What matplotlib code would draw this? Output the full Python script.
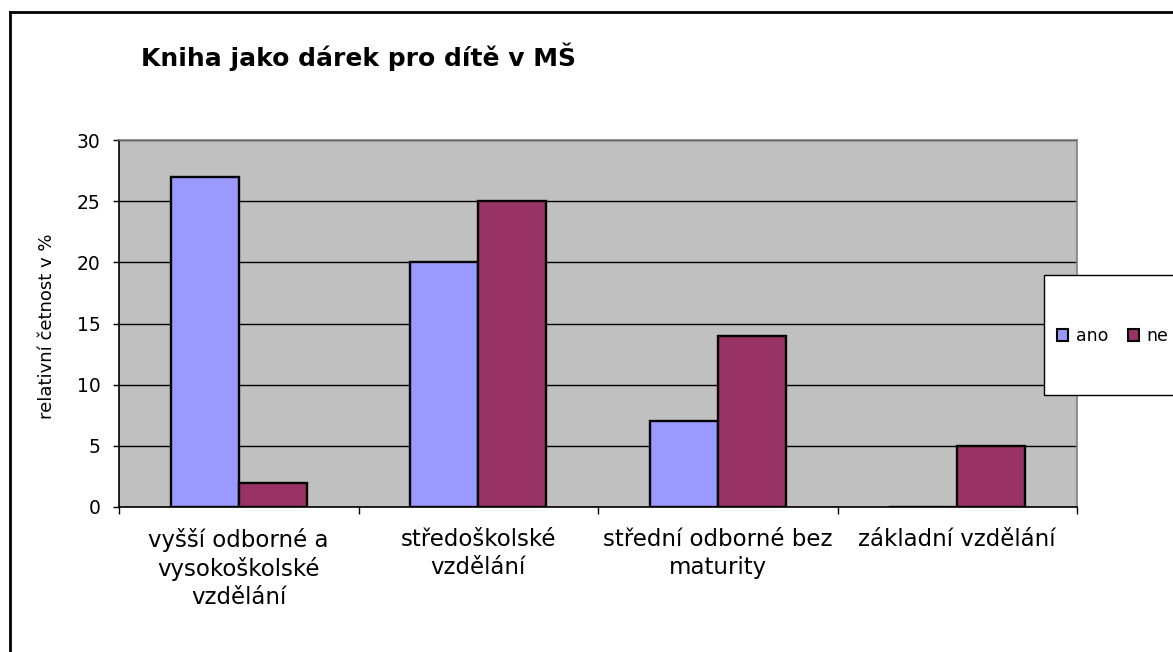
import matplotlib
matplotlib.use("Agg")
import matplotlib.pyplot as plt
import numpy as np
from matplotlib.lines import Line2D
from matplotlib.patches import Patch, Rectangle

categories = ["vyšší odborné a\nvysokoškolské\nvzdělání", "středoškolské\nvzdělání",
              "střední odborné bez\nmaturity", "základní vzdělání"]
ano = [27, 20, 7, 0]
ne = [2, 25, 14, 5]
series_names = ["ano", "ne"]
yticks = [0, 5, 10, 15, 20, 25, 30]

W, H = 1173, 652
plt.rcParams['font.family'] = ['DejaVu Sans']
fig = plt.figure(figsize=(W/100, H/100), dpi=100)
fig.patch.set_facecolor('white')

# outer chart border (left and top visible)
fig.add_artist(Line2D([10/W, 10/W], [0, 1-12/H], transform=fig.transFigure, color='black', lw=2))
fig.add_artist(Line2D([10/W, 1], [1-12/H, 1-12/H], transform=fig.transFigure, color='black', lw=2))

x0, x1, ytop, ybot = 119, 1077, 140, 507
ax = fig.add_axes([x0/W, 1-ybot/H, (x1-x0)/W, (ybot-ytop)/H])
ax.set_facecolor('#C0C0C0')

n = len(categories)
x = np.arange(n)
bw = 0.284
ax.bar(x - bw/2, ano, bw, color='#9999FF', edgecolor='black', linewidth=1.7, zorder=3)
ax.bar(x + bw/2, ne, bw, color='#993366', edgecolor='black', linewidth=1.7, zorder=3)

ax.set_xlim(-0.5, n - 0.5)
ax.set_ylim(0, 30)
ax.set_yticks(yticks)
ax.yaxis.grid(True, color='black', linewidth=1, zorder=1)
ax.set_axisbelow(True)
ax.tick_params(axis='y', labelsize=13.5, length=4.3, width=1, pad=9, colors='black')
ax.set_xticks(np.arange(-0.5, n, 1.0))
ax.set_xticklabels([])
ax.tick_params(axis='x', length=5, width=1, direction='out')
for i, c in enumerate(categories):
    ax.annotate(c, xy=(i, 0), xycoords='data', xytext=(0, -15), textcoords='offset points',
                ha='center', va='top', fontsize=16.5, linespacing=1.27, annotation_clip=False)

for s in ['left', 'bottom']:
    ax.spines[s].set_color('black')
    ax.spines[s].set_linewidth(1.2)
for s in ['top', 'right']:
    ax.spines[s].set_color('#808080')
    ax.spines[s].set_linewidth(1.2)

fig.text(47/W, 1-326/H, 'relativní četnost v %', fontsize=13, rotation=90,
         ha='center', va='center')

fig.text(141/W, 1-66/H, 'Kniha jako dárek pro dítě v MŠ', fontsize=18, fontweight='bold',
         ha='left', va='baseline')

# legend frame
fig.add_artist(Rectangle((1044/W, 1-395/H), 200/W, 120/H, transform=fig.transFigure,
                         facecolor='white', edgecolor='black', linewidth=1, zorder=5))
handles = [Patch(facecolor='#9999FF', edgecolor='black', linewidth=1.5),
           Patch(facecolor='#993366', edgecolor='black', linewidth=1.5)]
leg = fig.legend(handles, series_names, loc='center left',
                 bbox_to_anchor=(1057/W, 1-336/H),
                 ncol=2, fontsize=12.5, frameon=False,
                 handlelength=0.65, handleheight=0.65, handletextpad=0.45,
                 columnspacing=1.1, borderaxespad=0, borderpad=0)
leg.set_zorder(6)

fig.savefig('out.png', dpi=100)
